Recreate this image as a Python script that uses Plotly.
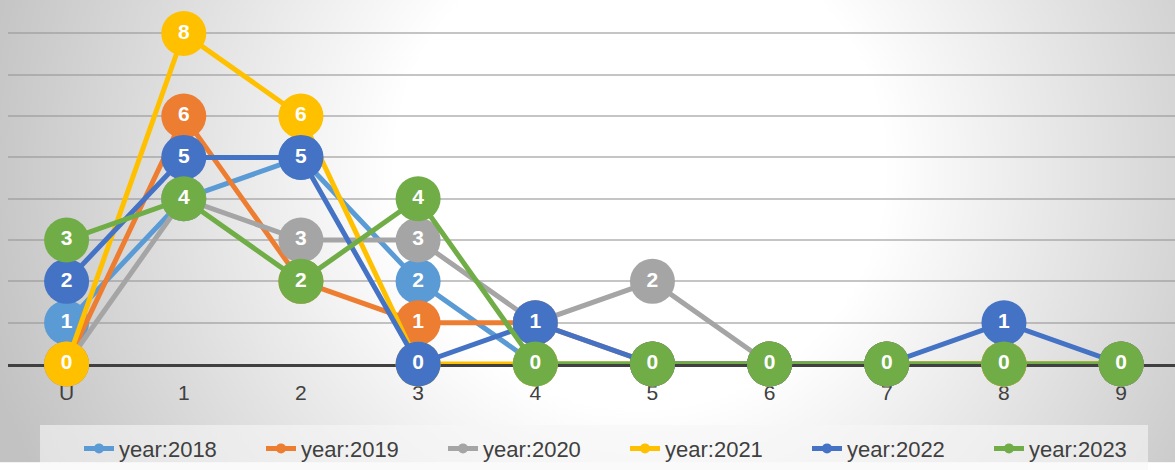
import base64
import plotly.graph_objects as go

# categories on the x axis
categories = ["U", "1", "2", "3", "4", "5", "6", "7", "8", "9"]

# one list per year
y2018 = [1, 4, 5, 2, 0, 0, 0, 0, 0, 0]
y2019 = [0, 6, 2, 1, 1, 0, 0, 0, 0, 0]
y2020 = [0, 4, 3, 3, 1, 2, 0, 0, 0, 0]
y2021 = [0, 8, 6, 0, 0, 0, 0, 0, 0, 0]
y2022 = [2, 5, 5, 0, 1, 0, 0, 0, 1, 0]
y2023 = [3, 4, 2, 4, 0, 0, 0, 0, 0, 0]

series_names = ["year:2018", "year:2019", "year:2020", "year:2021", "year:2022", "year:2023"]
series_values = [y2018, y2019, y2020, y2021, y2022, y2023]
colors = ["#5B9BD5", "#ED7D31", "#A5A5A5", "#FFC000", "#4472C4", "#70AD47"]

W, H = 1175, 470
ML, MR, MT, MB = 8, 0, 0, 100
PW, PH = W - ML - MR, H - MT - MB


def px(rx):
    # window x pixel -> paper x
    return (rx - ML) / PW


def py_(ry):
    # window y pixel -> paper y
    return (PH - (ry - MT)) / PH


fig = go.Figure()

for name, vals, col in zip(series_names, series_values, colors):
    fig.add_trace(go.Scatter(
        x=categories, y=vals, name=name, mode="lines+markers+text",
        line=dict(color=col, width=5),
        marker=dict(color=col, size=45, line=dict(width=0)),
        text=[str(v) for v in vals], textposition="middle center",
        textfont=dict(color="white", size=21, family="Liberation Sans", weight="bold"),
        cliponaxis=False, showlegend=False, hoverinfo="skip",
    ))

# small legend entries (the real markers are far too big for the legend)
for name, col in zip(series_names, colors):
    fig.add_trace(go.Scatter(
        x=[None], y=[None], name=name, mode="lines+markers",
        line=dict(color=col, width=5),
        marker=dict(color=col, size=10),
    ))

# radial grey->white background, drawn in window pixels
svg = ('<svg xmlns="http://www.w3.org/2000/svg" width="1175" height="470">'
       '<defs><radialGradient id="g" gradientUnits="userSpaceOnUse" cx="640" cy="170" r="680">'
       '<stop offset="0" stop-color="#ffffff"/><stop offset="0.36" stop-color="#ffffff"/>'
       '<stop offset="1" stop-color="#c2c2c2"/></radialGradient></defs>'
       '<rect width="1175" height="470" fill="url(#g)"/></svg>')
src = "data:image/svg+xml;base64," + base64.b64encode(svg.encode()).decode()

fig.add_layout_image(dict(
    source=src, xref="paper", yref="paper",
    x=px(0), y=py_(0), sizex=W / PW, sizey=H / PH,
    xanchor="left", yanchor="top", sizing="stretch", layer="below",
))

# legend box
fig.add_shape(type="rect", xref="paper", yref="paper",
              x0=px(40), x1=px(1148), y0=py_(480), y1=py_(432),
              fillcolor="rgba(246,246,246,0.6)", line=dict(width=0), layer="below")

fig.update_layout(
    width=W, height=H,
    margin=dict(l=ML, r=MR, t=MT, b=MB),
    paper_bgcolor="white", plot_bgcolor="rgba(0,0,0,0)",
    font=dict(family="Liberation Sans", color="#404040"),
    showlegend=True,
    legend=dict(orientation="h", x=px(79), xanchor="left",
                y=py_(456), yanchor="middle",
                bgcolor="rgba(0,0,0,0)", font=dict(size=22, color="#404040"),
                entrywidth=137, entrywidthmode="pixels", tracegroupgap=0),
    hovermode=False,
)

fig.update_xaxes(
    type="category", categoryorder="array", categoryarray=categories,
    range=[-0.5, -0.5 + PW / 117.17],
    showgrid=False, zeroline=False,
    showline=True, linecolor="#404040", linewidth=3, layer="below traces",
    ticks="", tickfont=dict(size=21, color="#404040"), ticklabelstandoff=8,
)
fig.update_yaxes(
    range=[0, PH / 42.0], dtick=1, showticklabels=False,
    showgrid=True, gridcolor="rgba(150,150,150,0.55)", gridwidth=1.5,
    zeroline=False, showline=False,
)

# drop the default 8px page margin so the figure sits at the window corner
fig.write_html("out.html", config={"displayModeBar": False},
               post_script="document.body.style.margin='0';document.body.style.overflow='hidden';")
